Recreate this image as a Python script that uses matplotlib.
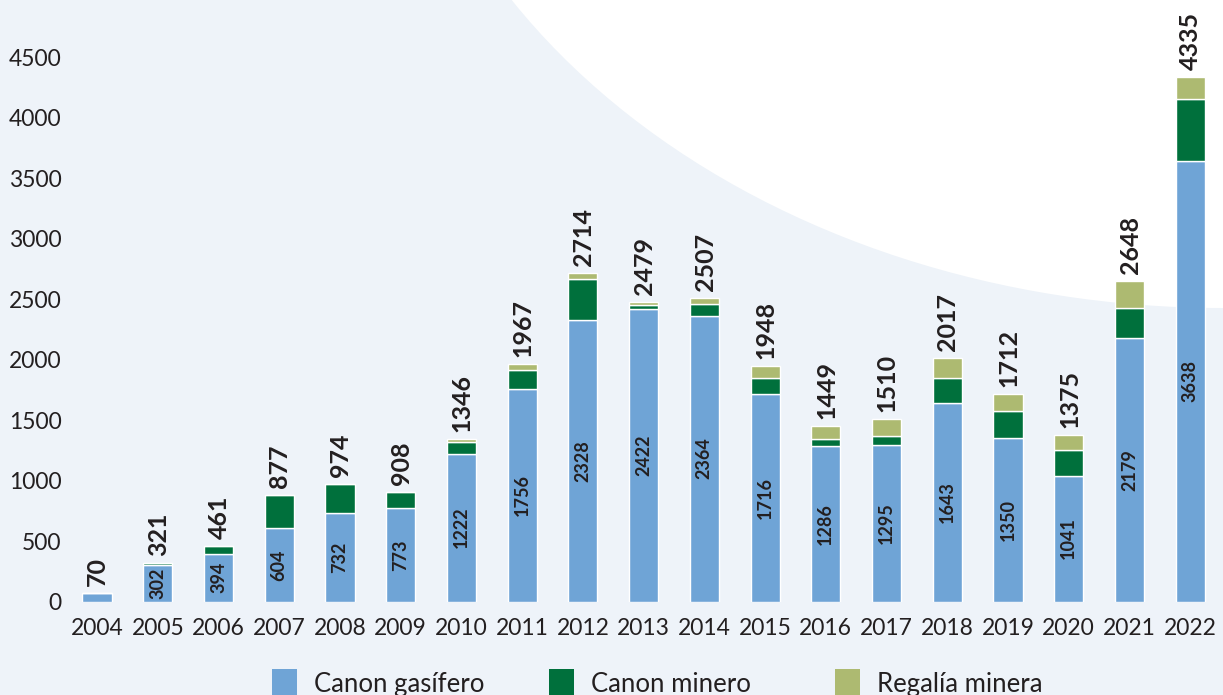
import matplotlib
matplotlib.use("Agg")
import matplotlib.pyplot as plt
from matplotlib.patches import Ellipse, Rectangle
import numpy as np

# --- Data ---
years = [str(y) for y in range(2004, 2023)]
canon_gasifero = [70, 302, 394, 604, 732, 773, 1222, 1756, 2328, 2422,
                  2364, 1716, 1286, 1295, 1643, 1350, 1041, 2179, 3638]
canon_minero = [0, 19, 67, 273, 242, 135, 100, 159, 340, 33,
                92, 130, 55, 75, 207, 222, 214, 250, 513]
regalia_minera = [0, 0, 0, 0, 0, 0, 24, 52, 46, 24,
                  51, 102, 108, 140, 167, 140, 120, 219, 184]
totals = [70, 321, 461, 877, 974, 908, 1346, 1967, 2714, 2479,
          2507, 1948, 1449, 1510, 2017, 1712, 1375, 2648, 4335]
series_names = ["Canon gasífero", "Canon minero", "Regalía minera"]

# --- Style ---
plt.rcParams["font.family"] = ["Lato", "DejaVu Sans"]
BG = "#EEF3F9"
BLUE = "#6FA4D6"
GREEN = "#00703C"
OLIVE = "#ADBA71"
TXT = "#231F20"
colors = [BLUE, GREEN, OLIVE]

W, H = 1223, 695
fig = plt.figure(figsize=(W / 100, H / 100), dpi=100, facecolor=BG)

# background with white curved area (pixel coords)
bg = fig.add_axes([0, 0, 1, 1])
bg.set_xlim(0, W)
bg.set_ylim(H, 0)
bg.axis("off")
bg.add_patch(Ellipse((1223, -350), 2 * 840, 2 * 658, color="white", lw=0))

# --- Main axes ---
ax = fig.add_axes([70 / W, (H - 601.5) / H, (W - 70) / W, 601.5 / H])
ax.patch.set_alpha(0)
x = np.arange(len(years))
gas = np.array(canon_gasifero)
mine = np.array(canon_minero)
reg = np.array(regalia_minera)

bar_kw = dict(width=0.48, edgecolor="white", linewidth=1.0, zorder=3)
ax.bar(x, gas, color=BLUE, **bar_kw)
ax.bar(x, mine, bottom=gas, color=GREEN, **bar_kw)
ax.bar(x, reg, bottom=gas + mine, color=OLIVE, **bar_kw)

# totals on top
for xi, top, t in zip(x, gas + mine + reg, totals):
    ax.annotate(str(t), (xi, top), xytext=(0.5, 5), textcoords="offset points",
                rotation=90, ha="center", va="bottom", fontsize=18,
                fontweight="bold", color=TXT)

# values inside blue segment
for xi, g in zip(x, gas):
    if g < 200:
        continue
    ax.text(xi, g / 2, str(g), rotation=90, ha="center", va="center",
            fontsize=13, fontweight="bold", color=TXT, zorder=4)

ax.set_xlim(-0.445, 18.54)
ax.set_ylim(0, 4973)
ax.set_yticks(range(0, 5000, 500))
ax.set_xticks(x)
ax.set_xticklabels(years)
ax.tick_params(axis="both", length=0, labelsize=16.5, labelcolor=TXT)
ax.tick_params(axis="y", pad=6)
ax.tick_params(axis="x", pad=12)
for s in ax.spines.values():
    s.set_visible(False)

# legend (drawn manually, partly cut at the bottom edge as in the source)
leg_x = [272, 549, 835]
for lx, name, c in zip(leg_x, series_names, colors):
    bg.add_patch(Rectangle((lx, 669), 25, 30, color=c, lw=0))
    bg.text(lx + 42, 692, name, fontsize=18.5, color=TXT, ha="left",
            va="baseline")

fig.savefig("out.png", dpi=100, facecolor=BG)
